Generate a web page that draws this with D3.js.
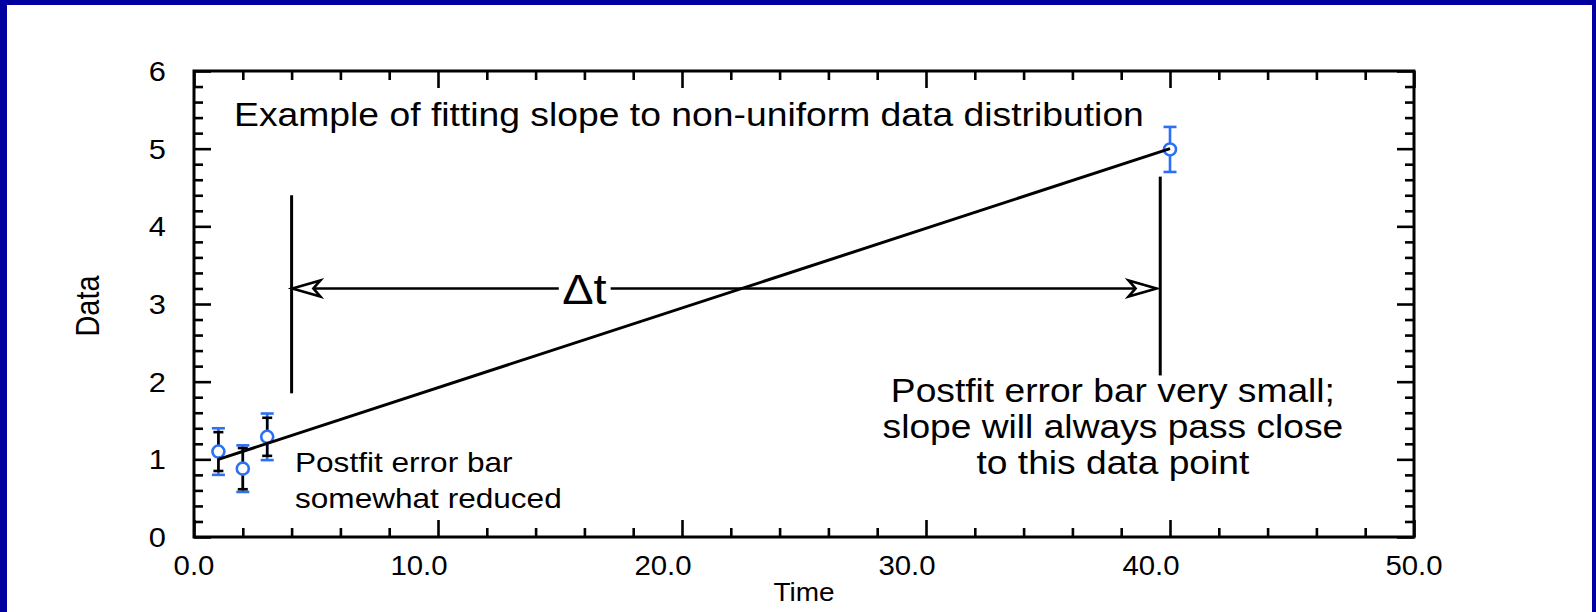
<!DOCTYPE html>
<html>
<head>
<meta charset="utf-8">
<script src="https://cdn.jsdelivr.net/npm/d3@7"></script>
<style>
html,body{margin:0;padding:0;background:#fff;}
svg{display:block;font-family:"Liberation Sans",Arial,Helvetica,sans-serif;}
</style>
</head>
<body>
<svg id="c" width="1596" height="612"></svg>
<script>
// ---- data ----
const times      = [1, 2, 3, 40];
const values     = [1.10, 0.88, 1.29, 4.99];
const prefitErr  = [0.30, 0.30, 0.30, 0.29];
const postfitErr = [0.25, 0.265, 0.245, 0.03];
const fitLine    = [[1, 1.0], [40, 5.0]];
const xTicks      = [0, 10, 20, 30, 40, 50];
const xTickLabels = ["0.0", "10.0", "20.0", "30.0", "40.0", "50.0"];
const yTicks      = [0, 1, 2, 3, 4, 5, 6];
const yTickLabels = ["0", "1", "2", "3", "4", "5", "6"];
const leftMarker  = {t: 4.0, y0: 1.85, y1: 4.40};
const rightMarker = {t: 39.6, y0: 2.08, y1: 4.64};
const arrowSpan   = {t0: 4.03, t1: 39.45, y: 3.2};

const SX = 1.12; // horizontal stretch of glyphs in the original
const BLUE = "#2b70f5";
const W = 1596, H = 612;
const svg = d3.select("#c");

svg.append("rect").attr("width", W).attr("height", H).attr("fill", "#0000a0");
svg.append("rect").attr("x", 7).attr("y", 5).attr("width", W - 11).attr("height", H - 5).attr("fill", "#fff");

const x = d3.scaleLinear().domain([0, 50]).range([194, 1414]);
const y = d3.scaleLinear().domain([0, 6]).range([537, 71]);

function txt(g, px, py, s, size, anchor, sx) {
  return g.append("text")
    .attr("transform", `translate(${px},${py}) scale(${sx || SX},1)`)
    .attr("font-size", size)
    .attr("text-anchor", anchor || "start")
    .attr("fill", "#000")
    .text(s);
}

// ---- axes (ticks inward on all four sides) ----
const xMinor = d3.range(0, 50.001, 2).filter(v => xTicks.indexOf(v) < 0);
const yMinor = d3.range(0, 6.001, 0.2).map(v => +v.toFixed(1)).filter(v => yTicks.indexOf(v) < 0);
const MAJ = 17, MIN = 9;

function styleAxis(g) {
  g.select(".domain").remove();
  g.selectAll("line").attr("stroke", "#000").attr("stroke-width", 2.6);
}
const axes = [
  [d3.axisBottom(x), [0, y(0)], xTicks, xMinor],
  [d3.axisTop(x), [0, y(6)], xTicks, xMinor],
  [d3.axisLeft(y), [x(0), 0], yTicks, yMinor],
  [d3.axisRight(y), [x(50), 0], yTicks, yMinor]
];
axes.forEach(([ax, tr, maj, min]) => {
  svg.append("g").attr("transform", `translate(${tr})`)
    .call(ax.tickValues(min).tickSize(-MIN).tickFormat(""))
    .call(styleAxis);
  svg.append("g").attr("transform", `translate(${tr})`)
    .call(ax.tickValues(maj).tickSize(-MAJ).tickFormat(""))
    .call(styleAxis);
});

// tick labels (inner x labels sit a little left of their ticks in the original)
const lab = svg.append("g");
xTicks.forEach((v, i) => {
  const inner = i > 0 && i < xTicks.length - 1;
  txt(lab, x(v) - (inner ? 19 : 0), y(0) + 38, xTickLabels[i], 28, "middle", 1.05);
});
yTicks.forEach((v, i) => txt(lab, x(0) - 28, y(v) + 10, yTickLabels[i], 28, "end", 1.1));

// frame
svg.append("rect").attr("x", x(0)).attr("y", y(6))
  .attr("width", x(50) - x(0)).attr("height", y(0) - y(6))
  .attr("fill", "none").attr("stroke", "#000").attr("stroke-width", 3);

// axis titles
txt(svg, (x(0) + x(50)) / 2, 601, "Time", 25, "middle");
svg.append("text")
  .attr("transform", `translate(99,${(y(0) + y(6)) / 2 + 2}) scale(${SX},1) rotate(-90)`)
  .attr("font-size", 29).attr("text-anchor", "middle").text("Data");

// ---- data marks ----
const pts = times.map((t, i) => ({t, v: values[i], e1: prefitErr[i], e2: postfitErr[i]}));
const plot = svg.append("g");

function errBars(g, key, color, cap) {
  const eb = g.selectAll(null).data(pts).enter().append("g").attr("stroke", color).attr("stroke-width", 2.6);
  eb.append("line").attr("x1", d => x(d.t)).attr("x2", d => x(d.t))
    .attr("y1", d => y(d.v - d[key])).attr("y2", d => y(d.v + d[key]));
  [-1, 1].forEach(s => eb.append("line")
    .attr("x1", d => x(d.t) - cap).attr("x2", d => x(d.t) + cap)
    .attr("y1", d => y(d.v + s * d[key])).attr("y2", d => y(d.v + s * d[key])));
}
errBars(plot, "e1", BLUE, 6.5);
errBars(plot, "e2", "#000", 5);

plot.selectAll("circle").data(pts).enter().append("circle")
  .attr("cx", d => x(d.t)).attr("cy", d => y(d.v)).attr("r", 6)
  .attr("fill", "#fff").attr("stroke", BLUE).attr("stroke-width", 2.6);

plot.append("path")
  .attr("d", d3.line().x(d => x(d[0])).y(d => y(d[1]))(fitLine))
  .attr("fill", "none").attr("stroke", "#000").attr("stroke-width", 3);

// ---- annotation: markers & arrow ----
[leftMarker, rightMarker].forEach(m => plot.append("line")
  .attr("x1", x(m.t)).attr("x2", x(m.t)).attr("y1", y(m.y0)).attr("y2", y(m.y1))
  .attr("stroke", "#000").attr("stroke-width", 3));

plot.append("line")
  .attr("x1", x(arrowSpan.t0)).attr("x2", x(arrowSpan.t1))
  .attr("y1", y(arrowSpan.y)).attr("y2", y(arrowSpan.y))
  .attr("stroke", "#000").attr("stroke-width", 2.4);

const head = "M0,0 L28,-8 L21,0 L28,8 Z";
plot.append("path").attr("d", head)
  .attr("transform", `translate(${x(arrowSpan.t0)},${y(arrowSpan.y)})`)
  .attr("fill", "#fff").attr("stroke", "#000").attr("stroke-width", 2.6).attr("stroke-linejoin", "miter");
plot.append("path").attr("d", head)
  .attr("transform", `translate(${x(arrowSpan.t1)},${y(arrowSpan.y)}) scale(-1,1)`)
  .attr("fill", "#fff").attr("stroke", "#000").attr("stroke-width", 2.6).attr("stroke-linejoin", "miter");

const dg = plot.append("g").attr("transform", `translate(${x(16.0)},${y(arrowSpan.y)}) scale(${SX},1)`);
const dt = dg.append("text").attr("font-size", 42).attr("text-anchor", "middle").attr("dy", "0.36em").text("Δt");
const bb = dt.node().getBBox();
dg.insert("rect", "text").attr("x", bb.x - 3).attr("y", bb.y).attr("width", bb.width + 6).attr("height", bb.height).attr("fill", "#fff");

// ---- annotation texts ----
const ann = svg.append("g");
txt(ann, x(1.64), y(5.29), "Example of fitting slope to non-uniform data distribution", 33.3, "start");
txt(ann, x(4.14), y(0.837), "Postfit error bar", 28.2, "start");
txt(ann, x(4.14), y(0.373), "somewhat reduced", 28.2, "start");
txt(ann, x(37.66), y(1.737), "Postfit error bar very small;", 33.2, "middle");
txt(ann, x(37.66), y(1.274), "slope will always pass close", 33.2, "middle");
txt(ann, x(37.66), y(0.811), "to this data point", 33.2, "middle");
</script>
</body>
</html>
